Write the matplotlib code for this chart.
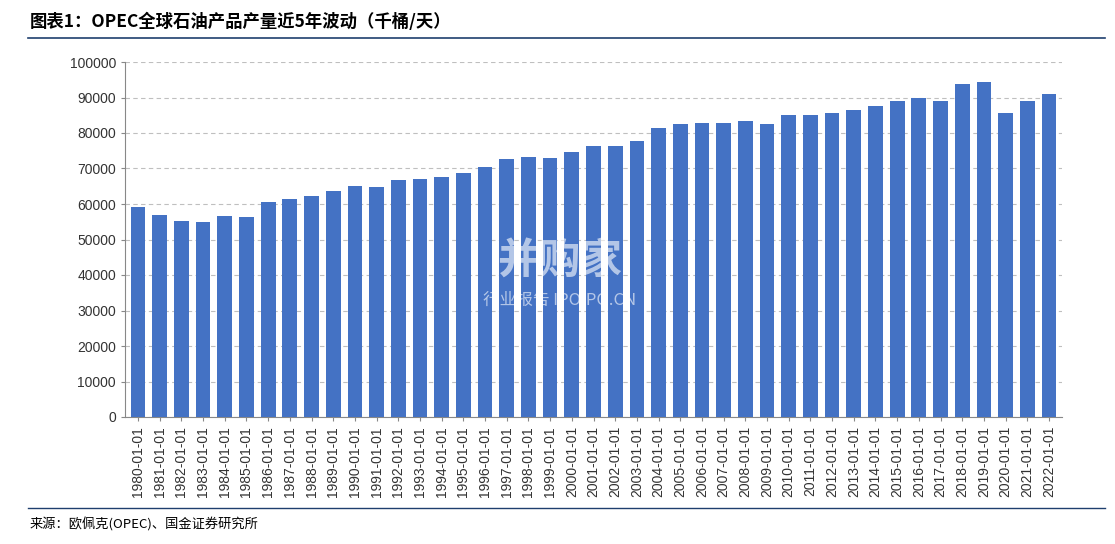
import matplotlib
matplotlib.use("Agg")
import matplotlib.pyplot as plt

plt.rcParams['font.family'] = ['Noto Sans CJK SC', 'DejaVu Sans']

years = [f"{y}-01-01" for y in range(1980, 2023)]
values = [59200, 56900, 55200, 54900, 56600, 56300, 60600, 61400, 62300, 63700,
          65100, 64800, 66800, 67000, 67600, 68700, 70400, 72700, 73200, 73000,
          74600, 76300, 76300, 77700, 81400, 82500, 82800, 82800, 83400, 82500,
          85100, 85100, 85600, 86500, 87600, 89000, 89900, 89000, 93800, 94400,
          85600, 89000, 91000]
yticks = list(range(0, 100001, 10000))

fig = plt.figure(figsize=(11.15, 5.44), dpi=100)
ax = fig.add_axes([125/1115, 1-417/544, (1062-125)/1115, (417-62)/544])
x = range(len(years))
ax.bar(x, values, width=0.68, color='#4472C4', zorder=3)
ax.set_xlim(-0.6, len(years)-0.4)
ax.set_ylim(0, 100000)
ax.set_yticks(yticks)
ax.set_yticklabels([str(v) for v in yticks], fontsize=10, color='#333333', family='Liberation Sans')
ax.set_xticks(list(x))
ax.set_xticklabels(years, rotation=90, fontsize=10, color='#333333', family='Liberation Sans')
ax.yaxis.grid(True, linestyle=(0, (4, 3)), color='#bfbfbf', linewidth=0.8, zorder=0)
for s in ['top', 'right']:
    ax.spines[s].set_visible(False)
ax.spines['left'].set_color('#888888')
ax.spines['bottom'].set_color('#888888')
ax.tick_params(axis='both', length=3, colors='#888888', labelcolor='#333333')

fig.text(30/1115, 1-22/544, "图表1：OPEC全球石油产品产量近5年波动（千桶/天）", fontsize=12.5,
         fontweight='bold', fontstyle='italic', va='center', ha='left')
fig.add_artist(plt.Line2D([28/1115, 1105/1115], [1-38/544]*2, color='#1f3f6e', lw=1.2))
fig.add_artist(plt.Line2D([28/1115, 1105/1115], [1-508/544]*2, color='#1f3f6e', lw=1.0))
fig.text(30/1115, 1-524/544, "来源：欧佩克(OPEC)、国金证券研究所", fontsize=9.5, va='center', ha='left')
fig.text(560/1115, 1-262/544, "并购家", fontsize=30, color='white', alpha=0.6, ha='center', va='center', fontweight='bold')
fig.text(560/1115, 1-300/544, "行业报告 IPOIPO.CN", fontsize=12, color='white', alpha=0.6, ha='center', va='center')
fig.savefig("out.png", dpi=100)
